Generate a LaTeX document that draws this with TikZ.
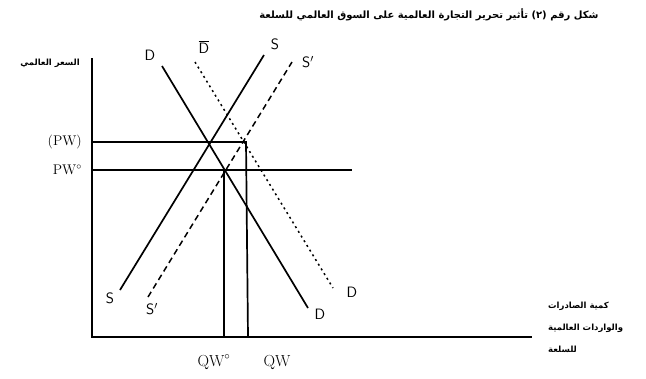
\documentclass[tikz,border=0pt]{standalone}
\usepackage{fontspec}
\usepackage{tikz}
\usetikzlibrary{positioning}
\TeXXeTstate=1
\newfontfamily\arabicfont[Script=Arabic]{DejaVu Sans}

\begin{document}
\begin{tikzpicture}[x=1pt,y=-1pt,
    axis/.style={line width=1.6pt},
    curve/.style={line width=1.7pt},
    shifted/.style={line width=1.5pt,dash pattern=on 6pt off 4pt},
    dotcurve/.style={line width=1.5pt,dash pattern=on 2pt off 3.5pt},
    guide/.style={line width=1.7pt},
    hand/.style={font=\sffamily\fontsize{15}{15}\selectfont,inner sep=0pt},
    tick/.style={font=\fontsize{14}{16}\selectfont,inner sep=0pt},
    qlab/.style={font=\fontsize{16}{18}\selectfont,inner sep=0pt},
    ar/.style={font=\arabicfont\bfseries\fontsize{8.5}{22}\selectfont,inner sep=0pt}]
  \useasboundingbox (0,0) rectangle (646,378);
  \node[font=\arabicfont\bfseries\fontsize{10}{12}\selectfont,inner sep=0pt] (title) at (429,15)
    {\beginR شكل رقم (٢) تأثير تحرير التجارة العالمية على السوق العالمي للسلعة\endR};
  % axes
  \coordinate (ytop) at (92,58);
  \coordinate (o) at (92,337);
  \coordinate (xend) at (532,337);
  \draw[axis] (ytop) -- (o) -- (xend);
  \node[ar] (ylab) at (50,63) {\beginR السعر العالمي\endR};
  \node[ar,align=left,anchor=north west] (xlab) at (548,302)
    {\beginR كمية الصادرات\endR\\ \beginR والواردات العالمية\endR\\ \beginR للسلعة\endR};
  % price and quantity lines
  \coordinate (pw) at (92,142);
  \coordinate (e3) at (246,142);
  \coordinate (qw) at (248,337);
  \coordinate (pwo) at (92,170);
  \coordinate (pwend) at (352,170);
  \coordinate (e2) at (224,170);
  \coordinate (qwo) at (224,337);
  \draw[guide] (pw) -- (e3) -- (qw);
  \draw[guide] (pwo) -- (pwend);
  \draw[guide] (e2) -- (qwo);
  \node[tick,left=10pt of pw] (pwlab) {(PW)};
  \node[tick,left=10pt of pwo] (pwolab) {PW$^{\circ}$};
  \node[qlab] (qwolab) at (214,362) {QW$^{\circ}$};
  \node[qlab] (qwlab) at (277,362) {QW};
  % demand and supply
  \coordinate (d1) at (162,66);
  \coordinate (d2) at (308,308);
  \coordinate (db1) at (195,62);
  \coordinate (db2) at (333,288);
  \coordinate (s1) at (120,290);
  \coordinate (s2) at (264,55);
  \coordinate (ss1) at (148,297);
  \coordinate (ss2) at (292,62);
  \draw[curve] (d1) -- (d2);
  \draw[dotcurve] (db1) -- (db2);
  \draw[curve] (s1) -- (s2);
  \draw[shifted] (ss1) -- (ss2);
  \node[hand] (dtop) at (150,55) {D};
  \node[hand] (dbot) at (320,314) {D};
  \node[hand] (dbtop) at (204,47) {$\overline{\mbox{D}}$};
  \node[hand] (dbbot) at (352,292) {D};
  \node[hand] (stop) at (275,44) {S};
  \node[hand] (sbot) at (110,298) {S};
  \node[hand] (sstop) at (308,62) {S$'$};
  \node[hand] (ssbot) at (152,309) {S$'$};
\end{tikzpicture}
\end{document}
